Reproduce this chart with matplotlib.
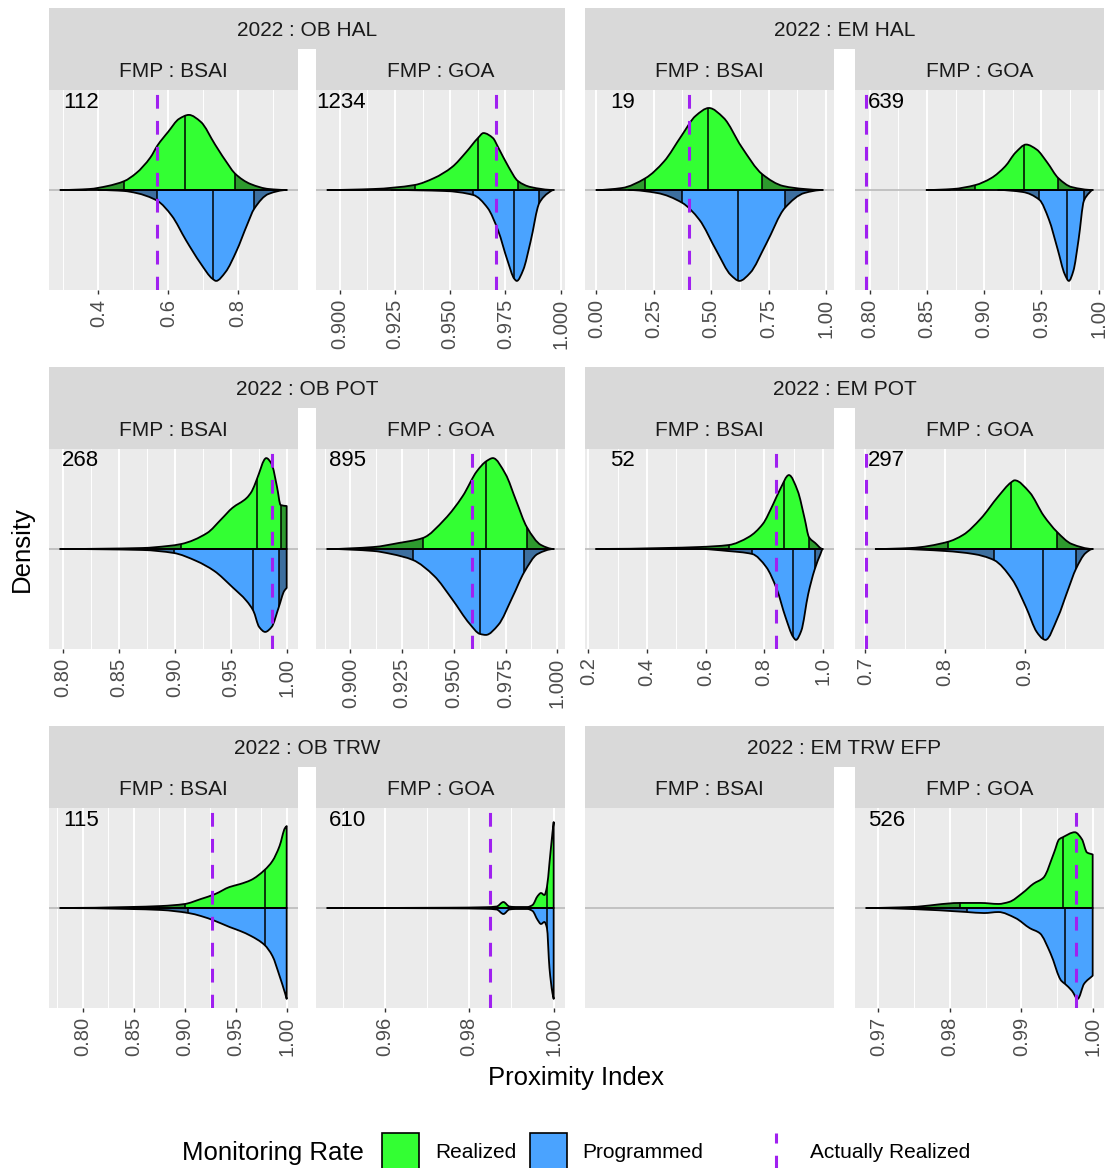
import numpy as np
import matplotlib.pyplot as plt
from matplotlib.patches import PathPatch, Rectangle
from matplotlib.path import Path

plt.rcParams['font.family'] = ['Liberation Sans', 'DejaVu Sans']

# ---- data (x = proximity index, d = relative density) ----
# 2022 : OB HAL, FMP : BSAI
ob_hal_bsai_real_x = [0.291, 0.374, 0.426, 0.474, 0.508, 0.549, 0.569, 0.600, 0.631, 0.659, 0.693, 0.734, 0.775, 0.790, 0.836, 0.888, 0.939]
ob_hal_bsai_real_d = [0, 1, 4, 9, 17, 33, 45, 59, 72, 76, 69, 46, 24, 17, 6, 1, 0]
ob_hal_bsai_prog_x = [0.40, 0.474, 0.508, 0.569, 0.610, 0.651, 0.692, 0.727, 0.737, 0.764, 0.795, 0.826, 0.846, 0.887, 0.939]
ob_hal_bsai_prog_d = [0, 1, 3, 11, 26, 51, 74, 90, 92, 83, 62, 35, 19, 4, 0]
ob_hal_bsai_real_q = [0.474, 0.649, 0.790]
ob_hal_bsai_prog_q = [0.569, 0.727, 0.846]
ob_hal_bsai_actual = 0.569
ob_hal_bsai_n = 112
ob_hal_bsai_ticks = [0.4, 0.6, 0.8]
ob_hal_bsai_labels = ['0.4', '0.6', '0.8']

# 2022 : OB HAL, FMP : GOA
ob_hal_goa_real_x = [0.8944, 0.9153, 0.9339, 0.9428, 0.9509, 0.9573, 0.9626, 0.9651, 0.9694, 0.9717, 0.9765, 0.9807, 0.9864, 0.9969]
ob_hal_goa_real_d = [0, 1, 5, 12, 23, 38, 52, 57, 52, 43, 23, 9, 3, 0]
ob_hal_goa_prog_x = [0.9234, 0.9476, 0.9605, 0.967, 0.9718, 0.9759, 0.9791, 0.9802, 0.9831, 0.9864, 0.9904, 0.9944, 0.9969]
ob_hal_goa_prog_d = [0, 1, 5, 18, 41, 70, 89, 91, 80, 52, 13, 3, 0]
ob_hal_goa_real_q = [0.9339, 0.9626, 0.9807]
ob_hal_goa_prog_q = [0.9605, 0.9791, 0.9904]
ob_hal_goa_actual = 0.971
ob_hal_goa_n = 1234
ob_hal_goa_ticks = [0.9, 0.925, 0.95, 0.975, 1.0]
ob_hal_goa_labels = ['0.900', '0.925', '0.950', '0.975', '1.000']

# 2022 : EM HAL, FMP : BSAI
em_hal_bsai_real_x = [0.0, 0.111, 0.214, 0.295, 0.371, 0.432, 0.490, 0.554, 0.631, 0.722, 0.814, 0.906, 0.985]
em_hal_bsai_real_d = [0, 2, 12, 29, 55, 75, 83, 73, 44, 16, 4, 1, 0]
em_hal_bsai_prog_x = [0.142, 0.264, 0.374, 0.448, 0.524, 0.585, 0.623, 0.669, 0.738, 0.821, 0.906, 0.985]
em_hal_bsai_prog_d = [0, 3, 13, 30, 62, 86, 92, 84, 55, 18, 3, 0]
em_hal_bsai_real_q = [0.214, 0.486, 0.722]
em_hal_bsai_prog_q = [0.374, 0.615, 0.821]
em_hal_bsai_actual = 0.402
em_hal_bsai_n = 19
em_hal_bsai_ticks = [0.0, 0.25, 0.5, 0.75, 1.0]
em_hal_bsai_labels = ['0.00', '0.25', '0.50', '0.75', '1.00']

# 2022 : EM HAL, FMP : GOA
em_hal_goa_real_x = [0.8496, 0.8725, 0.8923, 0.9061, 0.9184, 0.9275, 0.9366, 0.9458, 0.955, 0.9648, 0.9764, 0.9948]
em_hal_goa_real_d = [0, 1, 5, 12, 24, 38, 46, 41, 28, 12, 3, 0]
em_hal_goa_prog_x = [0.9122, 0.9336, 0.9483, 0.9566, 0.9642, 0.9703, 0.974, 0.9779, 0.9825, 0.9871, 0.9917, 0.9948]
em_hal_goa_prog_d = [0, 2, 10, 30, 60, 85, 92, 82, 50, 11, 3, 0]
em_hal_goa_real_q = [0.8923, 0.9351, 0.9648]
em_hal_goa_prog_q = [0.9483, 0.9724, 0.9871]
em_hal_goa_actual = 0.797
em_hal_goa_n = 639
em_hal_goa_ticks = [0.8, 0.85, 0.9, 0.95, 1.0]
em_hal_goa_labels = ['0.80', '0.85', '0.90', '0.95', '1.00']

# 2022 : OB POT, FMP : BSAI
ob_pot_bsai_real_x = [0.798, 0.8714, 0.8938, 0.9059, 0.929, 0.9418, 0.9514, 0.9642, 0.969, 0.9731, 0.9818, 0.9866, 0.9914, 0.9946, 1.0]
ob_pot_bsai_real_d = [0, 1, 3, 5, 16, 30, 41, 51, 58, 69, 91, 85, 62, 44, 43]
ob_pot_bsai_prog_x = [0.798, 0.8714, 0.8992, 0.9194, 0.9354, 0.9514, 0.9642, 0.9703, 0.9754, 0.9808, 0.9866, 0.993, 0.9978, 1.0]
ob_pot_bsai_prog_d = [0, 1, 4, 12, 22, 38, 52, 62, 78, 83, 78, 58, 42, 39]
ob_pot_bsai_real_q = [0.9059, 0.9731, 0.9946]
ob_pot_bsai_prog_q = [0.8992, 0.9703, 0.993]
ob_pot_bsai_actual = 0.9872
ob_pot_bsai_n = 268
ob_pot_bsai_ticks = [0.8, 0.85, 0.9, 0.95, 1.0]
ob_pot_bsai_labels = ['0.80', '0.85', '0.90', '0.95', '1.00']

# 2022 : OB POT, FMP : GOA
ob_pot_goa_real_x = [0.8888, 0.9112, 0.9233, 0.935, 0.9457, 0.9543, 0.9612, 0.9658, 0.9689, 0.975, 0.9802, 0.9853, 0.9922, 0.9983]
ob_pot_goa_real_d = [0, 2, 6, 11, 30, 53, 78, 88, 91, 75, 48, 22, 4, 0]
ob_pot_goa_prog_x = [0.8888, 0.9112, 0.9198, 0.9302, 0.9405, 0.9491, 0.9577, 0.9626, 0.9655, 0.9715, 0.9784, 0.9841, 0.9905, 0.9983]
ob_pot_goa_prog_d = [0, 2, 5, 11, 27, 50, 75, 85, 86, 76, 48, 23, 5, 0]
ob_pot_goa_real_q = [0.935, 0.9658, 0.9853]
ob_pot_goa_prog_q = [0.9302, 0.9626, 0.9841]
ob_pot_goa_actual = 0.9589
ob_pot_goa_n = 895
ob_pot_goa_ticks = [0.9, 0.925, 0.95, 0.975, 1.0]
ob_pot_goa_labels = ['0.900', '0.925', '0.950', '0.975', '1.000']

# 2022 : EM POT, FMP : BSAI
em_pot_bsai_real_x = [0.227, 0.460, 0.580, 0.679, 0.747, 0.795, 0.8307, 0.8546, 0.8843, 0.9144, 0.9383, 0.9525, 0.9741, 0.9995]
em_pot_bsai_real_d = [0, 1, 2, 4, 12, 25, 45, 60, 74, 58, 30, 12, 6, 0]
em_pot_bsai_prog_x = [0.227, 0.580, 0.6753, 0.759, 0.8067, 0.8426, 0.8724, 0.8987, 0.9083, 0.9263, 0.9502, 0.9716, 0.992, 0.9995]
em_pot_bsai_prog_d = [0, 0, 2, 5, 18, 40, 68, 88, 91, 82, 45, 21, 5, 0]
em_pot_bsai_real_q = [0.679, 0.8666, 0.9525]
em_pot_bsai_prog_q = [0.759, 0.8987, 0.9716]
em_pot_bsai_actual = 0.840
em_pot_bsai_n = 52
em_pot_bsai_ticks = [0.2, 0.4, 0.6, 0.8, 1.0]
em_pot_bsai_labels = ['0.2', '0.4', '0.6', '0.8', '1.0']

# 2022 : EM POT, FMP : GOA
em_pot_goa_real_x = [0.7131, 0.757, 0.8029, 0.8225, 0.8444, 0.8663, 0.8825, 0.8869, 0.9057, 0.9232, 0.9398, 0.9582, 0.9845]
em_pot_goa_real_d = [0, 1, 7, 14, 30, 52, 66, 68, 56, 33, 17, 5, 0]
em_pot_goa_prog_x = [0.7394, 0.8006, 0.8357, 0.8611, 0.8837, 0.9013, 0.9144, 0.9223, 0.9254, 0.9407, 0.9538, 0.9634, 0.9757, 0.9845]
em_pot_goa_prog_d = [0, 2, 5, 11, 30, 58, 82, 89, 90, 68, 40, 20, 4, 0]
em_pot_goa_real_q = [0.8029, 0.8825, 0.9398]
em_pot_goa_prog_q = [0.8611, 0.9223, 0.9634]
em_pot_goa_actual = 0.7013
em_pot_goa_n = 297
em_pot_goa_ticks = [0.7, 0.8, 0.9]
em_pot_goa_labels = ['0.7', '0.8', '0.9']

# 2022 : OB TRW, FMP : BSAI
ob_trw_bsai_real_x = [0.778, 0.8457, 0.8772, 0.90, 0.9158, 0.9299, 0.9439, 0.9544, 0.965, 0.9783, 0.986, 0.993, 0.9983, 1.0]
ob_trw_bsai_real_d = [0, 1, 2, 4, 9, 14, 21, 24, 28, 38, 47, 62, 80, 82]
ob_trw_bsai_prog_x = [0.778, 0.8457, 0.8772, 0.9035, 0.9158, 0.9299, 0.9439, 0.9544, 0.965, 0.9783, 0.986, 0.993, 0.9983, 1.0]
ob_trw_bsai_prog_d = [0, 1, 2, 5, 8, 13, 19, 23, 28, 37, 48, 68, 85, 91]
ob_trw_bsai_real_q = [0.90, 0.9783, 1.0]
ob_trw_bsai_prog_q = [0.9035, 0.9783, 1.0]
ob_trw_bsai_actual = 0.9263
ob_trw_bsai_n = 115
ob_trw_bsai_ticks = [0.8, 0.85, 0.9, 0.95, 1.0]
ob_trw_bsai_labels = ['0.80', '0.85', '0.90', '0.95', '1.00']

# 2022 : OB TRW, FMP : GOA
ob_trw_goa_real_x = [0.9464, 0.975, 0.984, 0.9865, 0.9881, 0.9895, 0.991, 0.9938, 0.995, 0.9962, 0.997, 0.9978, 0.9984, 0.999, 0.9997, 1.0]
ob_trw_goa_real_d = [0, 0.3, 0.8, 1.5, 6, 1.5, 1, 1, 3, 12, 15, 13, 21, 45, 75, 86]
ob_trw_goa_prog_x = [0.9464, 0.975, 0.984, 0.9865, 0.9881, 0.9895, 0.991, 0.9938, 0.995, 0.9962, 0.997, 0.9978, 0.9984, 0.999, 0.9997, 1.0]
ob_trw_goa_prog_d = [0, 0.3, 0.8, 1.5, 6, 1.5, 1, 1, 3, 12, 16, 14, 20, 60, 85, 91]
ob_trw_goa_real_q = [0.986, 0.9984, 1.0]
ob_trw_goa_prog_q = [0.986, 0.9984, 1.0]
ob_trw_goa_actual = 0.985
ob_trw_goa_n = 610
ob_trw_goa_ticks = [0.96, 0.98, 1.0]
ob_trw_goa_labels = ['0.96', '0.98', '1.00']

# 2022 : EM TRW EFP, FMP : GOA  (BSAI has no data)
em_trw_goa_real_x = [0.9683, 0.9746, 0.9814, 0.9843, 0.9868, 0.9883, 0.9902, 0.9917, 0.9931, 0.9946, 0.9953, 0.9958, 0.9975, 0.9985, 0.9992, 1.0]
em_trw_goa_real_d = [0, 1, 5, 5, 4, 6, 15, 24, 30, 55, 68, 70, 75, 68, 55, 53]
em_trw_goa_prog_x = [0.9683, 0.9746, 0.9824, 0.9848, 0.9868, 0.9892, 0.9912, 0.9926, 0.9941, 0.9956, 0.9961, 0.9971, 0.9979, 0.9988, 1.0]
em_trw_goa_prog_d = [0, 1, 4, 5, 4, 10, 20, 25, 45, 72, 75, 82, 90, 75, 67]
em_trw_goa_real_q = [0.9814, 0.9958, 1.0]
em_trw_goa_prog_q = [0.9824, 0.9961, 1.0]
em_trw_goa_actual = 0.9976
em_trw_goa_n = 526
em_trw_goa_ticks = [0.97, 0.98, 0.99, 1.0]
em_trw_goa_labels = ['0.97', '0.98', '0.99', '1.00']

group_titles = ['2022 : OB HAL', '2022 : EM HAL', '2022 : OB POT', '2022 : EM POT',
                '2022 : OB TRW', '2022 : EM TRW EFP']
fmp_titles = ['FMP : BSAI', 'FMP : GOA']

REAL_LIGHT, REAL_DARK = '#33FF33', '#2E9A2E'
PROG_LIGHT, PROG_DARK = '#4AA3FF', '#3D6F9F'
PURPLE = '#A020F0'


def panel(prefix):
    g = globals()
    return {k: g[prefix + '_' + k] for k in
            ['real_x', 'real_d', 'prog_x', 'prog_d', 'real_q', 'prog_q',
             'actual', 'n', 'ticks', 'labels']}


layout = [
    [panel('ob_hal_bsai'), panel('ob_hal_goa')],
    [panel('em_hal_bsai'), panel('em_hal_goa')],
    [panel('ob_pot_bsai'), panel('ob_pot_goa')],
    [panel('em_pot_bsai'), panel('em_pot_goa')],
    [panel('ob_trw_bsai'), panel('ob_trw_goa')],
    [None, panel('em_trw_goa')],
]

W, H = 1108, 1168
fig = plt.figure(figsize=(W / 100, H / 100), dpi=100)


def px_axes(x0, y0, x1, y1):
    return fig.add_axes([x0 / W, 1 - y1 / H, (x1 - x0) / W, (y1 - y0) / H])


def strip(x0, y0, x1, y1, text):
    ax = px_axes(x0, y0, x1, y1)
    ax.set_facecolor('#D9D9D9')
    ax.set_xticks([])
    ax.set_yticks([])
    for s in ax.spines.values():
        s.set_visible(False)
    ax.text(0.5, 0.45, text, transform=ax.transAxes, ha='center', va='center',
            fontsize=15, color='#1A1A1A')


def outline_path(xs, ys):
    # smooth outline through the read points (monotone cubic tangents, drawn as beziers)
    x = np.asarray(xs, float)
    y = np.asarray(ys, float)
    h = np.diff(x)
    delta = np.diff(y) / h
    m = np.zeros_like(y)
    for k in range(1, len(x) - 1):
        if delta[k - 1] * delta[k] > 0:
            w1 = 2 * h[k] + h[k - 1]
            w2 = h[k] + 2 * h[k - 1]
            m[k] = (w1 + w2) / (w1 / delta[k - 1] + w2 / delta[k])
    m[0] = 0 if y[0] == 0 else delta[0]
    m[-1] = 0 if y[-1] == 0 else delta[-1]
    verts = [(x[0], 0), (x[0], y[0])]
    codes = [Path.MOVETO, Path.LINETO]
    for k in range(len(x) - 1):
        verts += [(x[k] + h[k] / 3, y[k] + m[k] * h[k] / 3),
                  (x[k + 1] - h[k] / 3, y[k + 1] - m[k + 1] * h[k] / 3),
                  (x[k + 1], y[k + 1])]
        codes += [Path.CURVE4] * 3
    verts += [(x[-1], 0), (x[0], 0)]
    codes += [Path.LINETO, Path.CLOSEPOLY]
    return Path(verts, codes)


def density(ax, xs, ds, sign, light, dark, qs):
    path = outline_path(xs, [sign * d for d in ds])
    shape = PathPatch(path, fc=dark, ec='none', zorder=2)
    ax.add_patch(shape)
    mid = PathPatch(path, fc=light, ec='none', zorder=2.1)
    ax.add_patch(mid)
    mid.set_clip_path(Rectangle((qs[0], -1e3), qs[-1] - qs[0], 2e3, transform=ax.transData))
    vl = ax.vlines(qs, -1e3, 1e3, colors='black', lw=1.1, zorder=2.2)
    vl.set_clip_path(shape)
    ax.add_patch(PathPatch(path, fill=False, ec='black', lw=1.3, zorder=2.3,
                           joinstyle='round'))


def draw_panel(ax, p):
    ax.set_facecolor('#EBEBEB')
    for s in ax.spines.values():
        s.set_visible(False)
    ax.set_yticks([])
    ax.axhline(0, color='#BEBEBE', lw=1.3, zorder=1)
    if p is None:
        ax.set_xticks([])
        ax.set_ylim(-1, 1)
        return
    allx = p['real_x'] + p['prog_x'] + [p['actual']]
    lo, hi = min(allx), max(allx)
    pad = 0.05 * (hi - lo)
    ax.set_xlim(lo - pad, hi + pad)
    m = max(max(p['real_d']), max(p['prog_d']))
    ax.set_ylim(-1.1 * m, 1.1 * m)

    ticks = p['ticks']
    step = ticks[1] - ticks[0]
    minors = [t - step / 2 for t in ticks] + [ticks[-1] + step / 2]
    minors = [t for t in minors if lo - pad < t < hi + pad]
    ax.set_xticks(ticks)
    ax.set_xticklabels(p['labels'], rotation=90)
    ax.set_xticks(minors, minor=True)
    ax.grid(which='major', axis='x', color='white', lw=1.4)
    ax.grid(which='minor', axis='x', color='white', lw=0.7)
    ax.set_axisbelow(True)
    ax.tick_params(which='minor', length=0)
    ax.tick_params(which='major', axis='x', length=3.2, width=1.0, color='#333333',
                   labelsize=14.5, labelcolor='#4D4D4D', pad=3)

    density(ax, p['real_x'], p['real_d'], 1, REAL_LIGHT, REAL_DARK, p['real_q'])
    density(ax, p['prog_x'], p['prog_d'], -1, PROG_LIGHT, PROG_DARK, p['prog_q'])
    ax.axvline(p['actual'], color=PURPLE, lw=2.2, ls=(0, (4.5, 4)), zorder=3)
    ax.text(0.2, 0.94, str(p['n']), transform=ax.transAxes, ha='right', va='center',
            fontsize=16, color='black')


cols = [(49, 298), (316, 565), (585, 834), (855, 1104)]
row_tops = [8, 367, 726]

for gi, pair in enumerate(layout):
    r, c = divmod(gi, 2)
    top = row_tops[r]
    left_sub, right_sub = cols[2 * c], cols[2 * c + 1]
    strip(left_sub[0], top, right_sub[1], top + 41, group_titles[gi])
    for k, (x0, x1) in enumerate([left_sub, right_sub]):
        strip(x0, top + 41, x1, top + 82, fmp_titles[k])
        ax = px_axes(x0, top + 82, x1, top + 282)
        draw_panel(ax, pair[k])

fig.text(22 / W, 1 - 549 / H, 'Density', rotation=90, ha='center', va='center', fontsize=18.5)
fig.text(576 / W, 1 - 1078 / H, 'Proximity Index', ha='center', va='center', fontsize=18.5)

# legend
lg = fig.add_axes([0, 0, 1, 60 / H])
lg.set_xlim(0, W)
lg.set_ylim(H, H - 60)
lg.axis('off')
lg.text(182, 1153, 'Monitoring Rate', ha='left', va='center', fontsize=18.5)
lg.add_patch(Rectangle((382, 1133), 37, 37, fc=REAL_LIGHT, ec='black', lw=1.2))
lg.text(435, 1153, 'Realized', ha='left', va='center', fontsize=15)
lg.add_patch(Rectangle((530, 1133), 37, 37, fc=PROG_LIGHT, ec='black', lw=1.2))
lg.text(582, 1153, 'Programmed', ha='left', va='center', fontsize=15)
lg.plot([776, 776], [1170, 1133], color=PURPLE, lw=2.2, ls=(0, (4.5, 4)))
lg.text(810, 1153, 'Actually Realized', ha='left', va='center', fontsize=15)

fig.savefig('out.png', dpi=100)
